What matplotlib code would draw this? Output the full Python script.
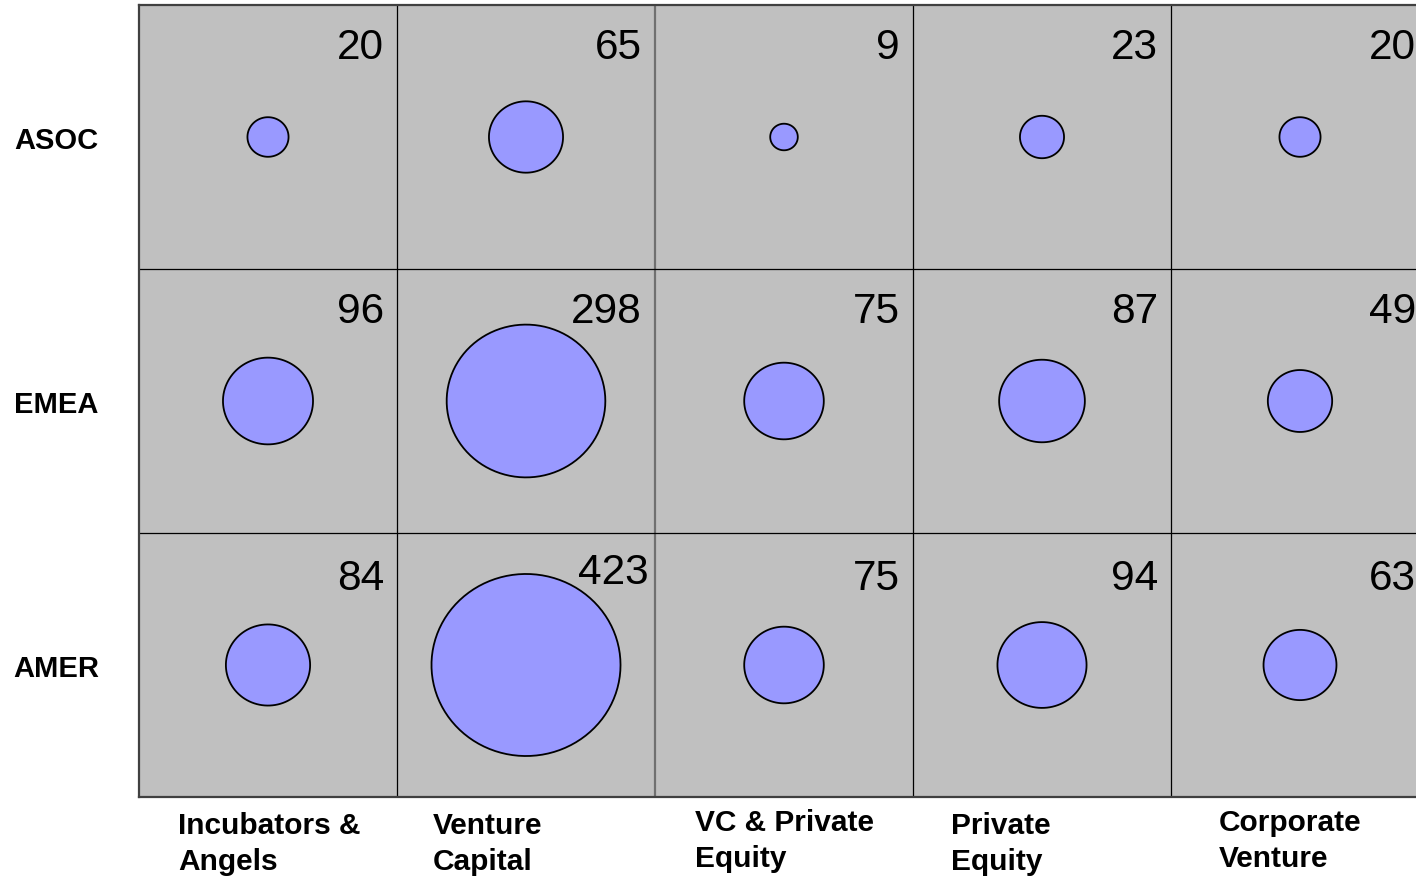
import matplotlib
matplotlib.use('Agg')
import matplotlib.pyplot as plt
import numpy as np
from matplotlib.path import Path
from matplotlib.transforms import blended_transform_factory

plt.rcParams['font.family'] = ['Liberation Sans', 'DejaVu Sans']

regions = ['ASOC', 'EMEA', 'AMER']
investor_types = ['Incubators &\nAngels', 'Venture\nCapital', 'VC & Private\nEquity',
                  'Private\nEquity', 'Corporate\nVenture']
counts = np.array([
    [20, 65, 9, 23, 20],
    [96, 298, 75, 87, 49],
    [84, 423, 75, 94, 63],
])

# pixel geometry of the grid
W, H = 1416, 878
cell_w, cell_h = 258, 264
fig = plt.figure(figsize=(W / 100, H / 100), dpi=100)
ax = fig.add_axes([139 / W, 80 / H, 5 * cell_w / W, 3 * cell_h / H])
ax.set_xlim(0, 5)
ax.set_ylim(3, 0)
ax.set_facecolor('#c0c0c0')
ax.set_xticks([])
ax.set_yticks([])
for s in ax.spines.values():
    s.set_color('#404040')
    s.set_linewidth(1.6)

# inner grid lines
for c in range(1, 5):
    if c == 2:
        ax.axvline(c, color='#707070', lw=1.6, zorder=1)
    else:
        ax.axvline(c, color='black', lw=0.9, zorder=1)
for r in range(1, 3):
    ax.axhline(r, color='black', lw=0.9, zorder=1)

# slightly wide ellipse marker
t = np.linspace(0, 2 * np.pi, 100)
ell = Path(np.column_stack([np.cos(t), 0.963 * np.sin(t)]), closed=True)

cols, rows = np.meshgrid(np.arange(5), np.arange(3))
ax.scatter(cols.ravel() + 0.5, rows.ravel() + 0.5, s=counts.ravel() * 43.8,
           marker=ell, facecolor='#9999ff', edgecolor='black', linewidths=1.3, zorder=3)

# value labels in the top-right of each cell
row_off = [42, 42, 45]
for r in range(3):
    for c in range(5):
        dx, dy = 13, row_off[r]
        if r == 2 and c == 1:
            dx, dy = 6, 39
        ax.text(c + 1 - dx / cell_w, r + dy / cell_h, str(counts[r, c]),
                ha='right', va='center', fontsize=30.5, color='black', zorder=4)

# row labels
tr = blended_transform_factory(ax.transAxes, ax.transData)
for r, name in enumerate(regions):
    ax.text((56 - 139) / (5 * cell_w), r + 0.51, name, transform=tr,
            ha='center', va='center', fontsize=21, fontweight='bold')

# column labels
tr2 = blended_transform_factory(ax.transData, ax.transAxes)
x_off = [39, 36, 40, 38, 48]
y_off = [14, 14, 11, 14, 11]
for c, name in enumerate(investor_types):
    ax.text(c + x_off[c] / cell_w, -y_off[c] / (3 * cell_h), name, transform=tr2,
            ha='left', va='top', fontsize=21.5, fontweight='bold', linespacing=1.38)

fig.savefig('out.png', dpi=100)
